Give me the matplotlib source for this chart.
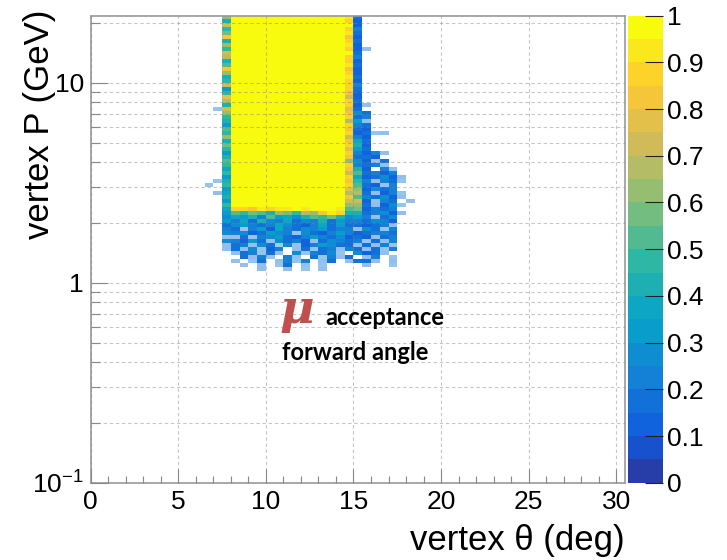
import matplotlib
matplotlib.use("Agg")
import matplotlib.pyplot as plt
import numpy as np
from matplotlib.colors import LinearSegmentedColormap, ListedColormap
from matplotlib.ticker import LogLocator, MultipleLocator, NullFormatter

plt.rcParams["font.family"] = ["Liberation Sans", "DejaVu Sans"]
plt.rcParams["mathtext.fontset"] = "custom"
plt.rcParams["mathtext.rm"] = "Liberation Sans"
plt.rcParams["mathtext.it"] = "Liberation Sans:italic"

# ROOT kBird palette
BIRD_RGB = [
    (0.2082, 0.1664, 0.5293), (0.0592, 0.3599, 0.8684), (0.0780, 0.5041, 0.8385),
    (0.0232, 0.6419, 0.7914), (0.1802, 0.7178, 0.6425), (0.5301, 0.7492, 0.4662),
    (0.8186, 0.7328, 0.3499), (0.9956, 0.7862, 0.1968), (0.9764, 0.9832, 0.0539),
]
N_CONTOURS = 20

# histogram binning: theta in 0.5 deg bins, P in log bins (listed from high P to low P)
theta_edges = np.arange(6.5, 18.51, 0.5)
p_edges = np.logspace(1.36, 0.06, 66)

# each character gives the colour band (0.05 wide) of a bin, '.' = empty bin;
# u/v/w are weakly filled bins of band 3/4/6
BANDS = "0123456789abcdefghij"
FAINT = {"u": 3, "v": 4, "w": 6}
acceptance_rows = [
    "..djjjjjjjjjjjjjh2......",
    "..cjjjjjjjjjjjjji3......",
    "..8jjjjjjjjjjjjjh2......",
    "..ejjjjjjjjjjjjjj2......",
    "..9jjjjjjjjjjjjjh4......",
    "..bjjjjjjjjjjjjji3......",
    "..gjjjjjjjjjjjjjg2......",
    "..8jjjjjjjjjjjjjh3......",
    "..cjjjjjjjjjjjjji2......",
    "..9jjjjjjjjjjjjjh2u.....",
    "..ejjjjjjjjjjjjjj3......",
    "..djjjjjjjjjjjjjh4......",
    "..8jjjjjjjjjjjjjh2......",
    "..ajjjjjjjjjjjjji3......",
    "..gjjjjjjjjjjjjjg2......",
    "..cjjjjjjjjjjjjjh2......",
    "..8jjjjjjjjjjjjji3......",
    "..9jjjjjjjjjjjjjh2......",
    "..ejjjjjjjjjjjjjh4......",
    "..6jjjjjjjjjjjjjh3......",
    "..9jjjjjjjjjjjjjg2......",
    "..fjjjjjjjjjjjjje2......",
    "..djjjjjjjjjjjjjh3......",
    "..8jjjjjjjjjjjjjh2u.....",
    ".vejjjjjjjjjjjjjf3......",
    "..cjjjjjjjjjjjjjg53.....",
    "..9jjjjjjjjjjjjjh34.....",
    "..8jjjjjjjjjjjjjd6u.....",
    "..6jjjjjjjjjjjjjh43.....",
    "..ajjjjjjjjjjjjjg32.....",
    "..9jjjjjjjjjjjjjh23vu...",
    "..cjjjjjjjjjjjjje42.....",
    "..8jjjjjjjjjjjjjg73.....",
    "..bjjjjjjjjjjjjjh82.....",
    "..9jjjjjjjjjjjjjf63.....",
    "..6jjjjjjjjjjjjjh424u...",
    "..8jjjjjjjjjjjjjg332....",
    "..ajjjjjjjjjjjjjc52v3...",
    "..9jjjjjjjjjjjjjh434u...",
    "..7jjjjjjjjjjjjjg82.4v..",
    "..9jjjjjjjjjjjjjea3424..",
    "..6jjjjjjjjjjjjjh72352u.",
    ".v8jjjjjjjjjjjjjg94u43v.",
    "v.9jjjjjjjjjjjjjha32v4..",
    "..6jjjjjjjjjjjjjfc2534..",
    ".u7jjjjjjjjjjjjjdd3u24v.",
    "..8jjjjjjjjjjjjjga4352u.",
    "..6jjjjjjjjjjjjjee2v43.u",
    "..9jjjjjjjjjjjjjcc3u25v.",
    "..7hhgihiijijjjiab2434..",
    "..6a9ba8cb9dcgih883452u.",
    "..57684a6758a9b8564u35..",
    "..64738547354836443542..",
    "..3564347532473633234u..",
    "..43v462743546344u53v4..",
    "..54523654v53246423443..",
    "..uu3v4563246435232u34..",
    "..54263u5342u35434v3u4..",
    "..u34u53w5v246533u3u4v..",
    "..u3u5v24.u3v34u43u3v4..",
    "...u34v3u.5v435v.523u...",
    "....3u4v.4u.3v4u3.u4.v..",
    "...u.v3.u4v4.u3.u33u.u..",
    "....u.u.v3.u.v....u..v..",
    "......u..u.v.u..........",
]

theta_ticks = [0, 5, 10, 15, 20, 25, 30]
p_ticks = [0.1, 1, 10]
p_tick_labels = ["$10^{-1}$", "1", "10"]
z_ticks = np.round(np.arange(0, 1.01, 0.1), 1)


def decode(rows):
    """Turn the band strings into (solid, faint) value grids."""
    solid = np.full((len(rows), len(rows[0])), np.nan)
    faint = np.full_like(solid, np.nan)
    for i, row in enumerate(rows):
        for j, ch in enumerate(row):
            if ch in BANDS:
                solid[i, j] = (BANDS.index(ch) + 0.5) / N_CONTOURS
            elif ch in FAINT:
                faint[i, j] = (FAINT[ch] + 0.5) / N_CONTOURS
    return solid, faint


bird = LinearSegmentedColormap.from_list("bird", BIRD_RGB, N=255)
band_colors = [bird(min((k + 0.99) / N_CONTOURS, 1.0)) for k in range(N_CONTOURS)]
cmap = ListedColormap(band_colors)

solid, faint = decode(acceptance_rows)

fig = plt.figure(figsize=(7.27, 5.6), dpi=100)
ax = fig.add_axes([0.1248, 0.138, 0.7349, 0.834])
cax = fig.add_axes([0.8642, 0.138, 0.0473, 0.834])

mesh = ax.pcolormesh(theta_edges, p_edges, solid, cmap=cmap, vmin=0, vmax=1)
ax.pcolormesh(theta_edges, p_edges, faint, cmap=cmap, vmin=0, vmax=1, alpha=0.45)

ax.set_yscale("log")
ax.set_xlim(0, 30.5)
ax.set_ylim(0.1, 21.7)

ax.set_xticks(theta_ticks)
ax.xaxis.set_minor_locator(MultipleLocator(1))
ax.set_yticks(p_ticks, labels=p_tick_labels)
ax.yaxis.set_minor_locator(LogLocator(base=10, subs=np.arange(2, 10), numticks=20))
ax.yaxis.set_minor_formatter(NullFormatter())

ax.tick_params(which="both", direction="in", color="#888888", width=0.8,
               labelsize=19, top=False, right=False)
ax.tick_params(axis="x", which="major", length=10, pad=5)
ax.tick_params(axis="x", which="minor", length=5)
ax.tick_params(axis="y", which="major", length=12, pad=5)
ax.tick_params(axis="y", which="minor", length=6.5)
for s in ax.spines.values():
    s.set_color("#999999")
    s.set_linewidth(1.2)

grid_kw = dict(color="#808080", alpha=0.45, linewidth=0.8, linestyle=(0, (3, 2.5)))
ax.set_axisbelow(False)
ax.grid(True, axis="x", which="major", **grid_kw)
ax.grid(True, axis="y", which="both", **grid_kw)

cbar = fig.colorbar(mesh, cax=cax, ticks=z_ticks)
cbar.ax.set_yticklabels([f"{v:g}" for v in z_ticks])
cbar.outline.set_visible(False)
cbar.ax.tick_params(direction="in", length=13, width=0.8, color="#222222",
                    labelsize=19, pad=3)

fig.text(0.055, 0.982, "vertex P (GeV)", rotation=90, ha="center", va="top",
         fontsize=25)
fig.text(0.8597, 0.018, "vertex \u03b8 (deg)", ha="right", va="baseline",
         fontsize=25)

ax.text(0.354, 0.342, "\u03bc", transform=ax.transAxes, color="#C0504D",
        fontsize=34, family="DejaVu Serif", style="italic", weight="bold")
ax.text(0.4385, 0.3377, "acceptance", transform=ax.transAxes, fontsize=17,
        family="Lato", weight="bold")
ax.text(0.358, 0.2627, "forward angle", transform=ax.transAxes, fontsize=17,
        family="Lato", weight="bold")

fig.savefig("out.png", dpi=100)
